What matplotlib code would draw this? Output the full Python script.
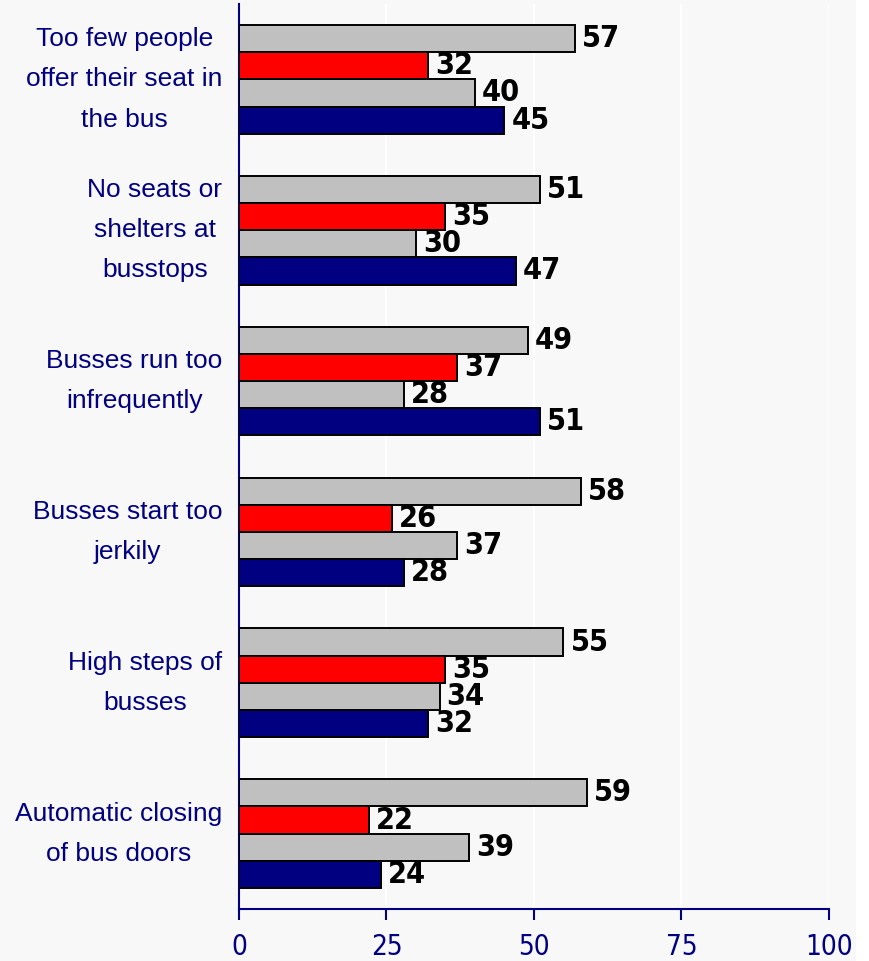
import matplotlib
matplotlib.use("Agg")
import matplotlib.pyplot as plt
import numpy as np
from matplotlib.patches import Rectangle

# survey answers, one list per bar within each group (top to bottom)
categories = [
    "Too few people\noffer their seat in\nthe bus",
    "No seats or\nshelters at\nbusstops",
    "Busses run too\ninfrequently",
    "Busses start too\njerkily",
    "High steps of\nbusses",
    "Automatic closing\nof bus doors",
]
series_1 = [57, 51, 49, 58, 55, 59]
series_2 = [32, 35, 37, 26, 35, 22]
series_3 = [40, 30, 28, 37, 34, 39]
series_4 = [45, 47, 51, 28, 32, 24]
x_ticks = [0, 25, 50, 75, 100]

colors = ["#C0C0C0", "#FF0000", "#C0C0C0", "#000080"]
navy = "#000080"
bg = "#F8F8F8"

fig = plt.figure(figsize=(8.7, 9.61), dpi=100, facecolor="white")
fig.patches.append(Rectangle((0, 0), 856 / 870, 1, transform=fig.transFigure,
                             facecolor=bg, edgecolor="none", zorder=-10))
ax = fig.add_axes([239 / 870, 1 - 909 / 961, 590 / 870, 905 / 961])
ax.set_facecolor(bg)

bar_h = 0.18
all_series = [series_1, series_2, series_3, series_4]
y = np.arange(len(categories))
for k, vals in enumerate(all_series):
    pos = y + (k - 1.5) * bar_h
    bars = ax.barh(pos, vals, height=bar_h, color=colors[k], edgecolor="black",
                   linewidth=1.4, zorder=3)
    for b, v in zip(bars, vals):
        ax.annotate(str(v), (v, b.get_y() + b.get_height() / 2),
                    xytext=(5, 0), textcoords="offset points",
                    ha="left", va="center", fontsize=22, fontweight="bold",
                    family="DejaVu Sans", fontstretch="condensed",
                    color="black", zorder=4)

ax.set_ylim(len(categories) - 0.5, -0.5)
ax.set_xlim(0, 100)
ax.set_xticks(x_ticks)
ax.set_xticklabels([str(t) for t in x_ticks], fontsize=20, color=navy,
                   family="DejaVu Sans", fontstretch="condensed")
ax.tick_params(axis="x", direction="out", length=8, width=1.5, color=navy, pad=9)
ax.set_yticks(y)
ax.set_yticklabels(categories, fontsize=19, color=navy, family=["Liberation Sans", "DejaVu Sans"],
                   multialignment="center", linespacing=1.85, va="center")
ax.tick_params(axis="y", length=0, pad=12)

ax.grid(axis="x", color="white", linewidth=1.5, zorder=0)
ax.set_axisbelow(True)
for side in ["top", "right"]:
    ax.spines[side].set_visible(False)
for side in ["left", "bottom"]:
    ax.spines[side].set_color(navy)
    ax.spines[side].set_linewidth(1.5)

fig.savefig("out.png", dpi=100, facecolor=fig.get_facecolor())
